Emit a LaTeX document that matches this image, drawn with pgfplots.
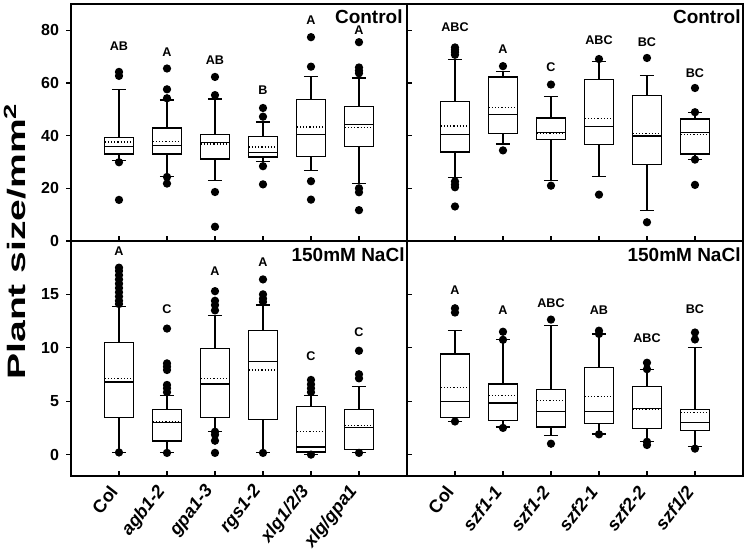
\documentclass[border=0pt]{standalone}
\usepackage{pgfplots}
\pgfplotsset{compat=1.18}
\usepgfplotslibrary{groupplots,statistics}
\usetikzlibrary{calc}
\usepackage{fontspec}
\setmainfont{Liberation Sans}

\tikzset{lt/.style={font=\fontsize{6.3}{7}\selectfont\bfseries, inner sep=0pt}}
\pgfplotsset{
  panel/.style={
    scale only axis, width=168pt,
    xmin=0, xmax=7, xtick={1,...,6},
    xtick pos=left, ytick pos=left,
    tick align=inside, major tick length=2.5pt,
    axis line style={line width=0.65pt},
    major tick style={black, line width=0.6pt},
    tick label style={font=\fontsize{8}{9}\selectfont\bfseries},
    /pgf/number format/assume math mode=true,
    boxplot/draw direction=y,
    boxplot/box extend=0.6, boxplot/whisker extend=0.3,
    boxplot/draw/average/.code={%
      \draw[densely dotted, line width=0.6pt]
        (boxplot box cs:\pgfplotsboxplotvalue{average},0) --
        (boxplot box cs:\pgfplotsboxplotvalue{average},1);
    },
    clip=false,
  },
  xlab/.style={xticklabel style={yshift=-6pt, xshift=-2.5pt, rotate=52,
    anchor=east, inner sep=0pt, font=\fontsize{9}{10}\selectfont\bfseries}},
  bx/.style={black, line width=0.6pt, mark=*, mark size=1.75pt,
    mark options={fill=black, solid}},
}

\begin{document}
\begin{tikzpicture}
\begin{groupplot}[group style={group size=2 by 2, horizontal sep=0pt,
    vertical sep=0pt, group name=g}, panel]

% top left: Control
\nextgroupplot[height=118.5pt, ymin=0, ymax=90, ytick={0,20,...,80},
  xticklabels={}, ytick align=outside]
\addplot[bx, boxplot prepared={lower whisker=30.5, lower quartile=33.0, median=35.9, upper quartile=39.4, upper whisker=57.6, average=37.6}]
  table[row sep=\\, y index=0] {y\\ 64.2\\ 62.7\\ 29.9\\ 15.6\\};
\addplot[bx, boxplot prepared={lower whisker=24.6, lower quartile=33.0, median=36.3, upper quartile=42.9, upper whisker=53.5, average=37.7}]
  table[row sep=\\, y index=0] {y\\ 65.5\\ 57.6\\ 54.2\\ 24.3\\ 21.8\\};
\addplot[bx, boxplot prepared={lower whisker=23.1, lower quartile=31.1, median=37.5, upper quartile=40.3, upper whisker=53.9, average=36.8}]
  table[row sep=\\, y index=0] {y\\ 62.3\\ 55.4\\ 18.6\\ 5.4\\};
\addplot[bx, boxplot prepared={lower whisker=30.3, lower quartile=31.9, median=33.5, upper quartile=39.8, upper whisker=45.2, average=35.7}]
  table[row sep=\\, y index=0] {y\\ 50.5\\ 47.2\\ 28.4\\ 21.5\\};
\addplot[bx, boxplot prepared={lower whisker=26.8, lower quartile=32.2, median=40.4, upper quartile=53.8, upper whisker=62.5, average=43.3}]
  table[row sep=\\, y index=0] {y\\ 77.4\\ 66.2\\ 22.7\\ 15.7\\};
\addplot[bx, boxplot prepared={lower whisker=21.9, lower quartile=35.8, median=44.1, upper quartile=51.0, upper whisker=61.9, average=43.1}]
  table[row sep=\\, y index=0] {y\\ 75.5\\ 65.9\\ 64.7\\ 63.7\\ 20.0\\ 18.5\\ 11.7\\};
\node[lt] at (axis cs:1,73.9) {AB};
\node[lt] at (axis cs:2,71.6) {A};
\node[lt] at (axis cs:3,68.8) {AB};
\node[lt] at (axis cs:4,57.4) {B};
\node[lt] at (axis cs:5,83.7) {A};
\node[lt] at (axis cs:6,79.9) {A};
\node[anchor=north east, inner sep=0pt, font=\fontsize{9.5}{10}\selectfont\bfseries]
  at ([xshift=-2pt, yshift=-2.5pt]rel axis cs:1,1) {Control};

% top right: Control
\nextgroupplot[height=118.5pt, ymin=0, ymax=90, ytick={0,20,...,80},
  xticklabels={}, yticklabels={}]
\addplot[bx, boxplot prepared={lower whisker=24.2, lower quartile=33.8, median=40.5, upper quartile=52.9, upper whisker=68.9, average=43.7}]
  table[row sep=\\, y index=0] {y\\ 73.5\\ 72.6\\ 71.7\\ 70.7\\ 22.6\\ 21.4\\ 20.4\\ 13.1\\};
\addplot[bx, boxplot prepared={lower whisker=36.8, lower quartile=40.7, median=48.1, upper quartile=62.3, upper whisker=64.5, average=50.7}]
  table[row sep=\\, y index=0] {y\\ 66.4\\ 34.4\\};
\addplot[bx, boxplot prepared={lower whisker=23.1, lower quartile=38.6, median=41.3, upper quartile=46.7, upper whisker=54.8, average=41.0}]
  table[row sep=\\, y index=0] {y\\ 59.4\\ 21.0\\};
\addplot[bx, boxplot prepared={lower whisker=24.5, lower quartile=36.7, median=43.6, upper quartile=61.4, upper whisker=68.3, average=46.4}]
  table[row sep=\\, y index=0] {y\\ 69.1\\ 17.6\\};
\addplot[bx, boxplot prepared={lower whisker=11.6, lower quartile=29.1, median=39.9, upper quartile=55.3, upper whisker=62.7, average=40.7}]
  table[row sep=\\, y index=0] {y\\ 69.5\\ 7.1\\};
\addplot[bx, boxplot prepared={lower whisker=30.9, lower quartile=33.0, median=41.3, upper quartile=46.3, upper whisker=48.8, average=40.4}]
  table[row sep=\\, y index=0] {y\\ 58.1\\ 48.9\\ 30.9\\ 21.3\\};
\node[lt] at (axis cs:1,81.2) {ABC};
\node[lt] at (axis cs:2,72.7) {A};
\node[lt] at (axis cs:3,66.0) {C};
\node[lt] at (axis cs:4,76.2) {ABC};
\node[lt] at (axis cs:5,75.5) {BC};
\node[lt] at (axis cs:6,63.7) {BC};
\node[anchor=north east, inner sep=0pt, font=\fontsize{9.5}{10}\selectfont\bfseries]
  at ([xshift=-1pt, yshift=-2.5pt]rel axis cs:1,1) {Control};

% bottom left: 150 mM NaCl
\nextgroupplot[height=117.5pt, ymin=-2, ymax=20, ytick={0,5,10,15},
  ytick align=outside, xlab,
  xticklabels={Col, {\itshape agb1-2}, {\itshape gpa1-3}, {\itshape rgs1-2}, {\itshape xlg1/2/3}, {\itshape xlg/gpa1}}]
\addplot[bx, boxplot prepared={lower whisker=0.22, lower quartile=3.51, median=6.8, upper quartile=10.47, upper whisker=13.85, average=7.11}]
  table[row sep=\\, y index=0] {y\\ 17.5\\ 17.2\\ 16.8\\ 16.4\\ 16.0\\ 15.6\\ 15.2\\ 14.8\\ 14.4\\ 14.1\\ 0.2\\};
\addplot[bx, boxplot prepared={lower whisker=0.16, lower quartile=1.27, median=3.04, upper quartile=4.22, upper whisker=5.56, average=3.07}]
  table[row sep=\\, y index=0] {y\\ 11.8\\ 8.54\\ 8.23\\ 7.92\\ 6.52\\ 6.21\\ 5.84\\ 0.16\\};
\addplot[bx, boxplot prepared={lower whisker=2.17, lower quartile=3.51, median=6.61, upper quartile=9.97, upper whisker=13.0, average=7.11}]
  table[row sep=\\, y index=0] {y\\ 15.3\\ 14.4\\ 14.0\\ 13.5\\ 2.14\\ 1.86\\ 1.3\\ 0.16\\};
\addplot[bx, boxplot prepared={lower whisker=0.16, lower quartile=3.26, median=8.73, upper quartile=11.6, upper whisker=14.0, average=7.92}]
  table[row sep=\\, y index=0] {y\\ 16.4\\ 15.0\\ 14.6\\ 14.3\\ 0.16\\};
\addplot[bx, boxplot prepared={lower whisker=0.0, lower quartile=0.25, median=0.71, upper quartile=4.5, upper whisker=5.56, average=2.2}]
  table[row sep=\\, y index=0] {y\\ 6.99\\ 6.58\\ 6.21\\ 5.84\\ 0.0\\};
\addplot[bx, boxplot prepared={lower whisker=0.16, lower quartile=0.5, median=2.55, upper quartile=4.25, upper whisker=6.37, average=2.76}]
  table[row sep=\\, y index=0] {y\\ 9.72\\ 7.52\\ 7.14\\ 0.16\\};
\node[lt] at (axis cs:1,19.0) {A};
\node[lt] at (axis cs:2,13.6) {C};
\node[lt] at (axis cs:3,17.2) {A};
\node[lt] at (axis cs:4,18.0) {A};
\node[lt] at (axis cs:5,9.2) {C};
\node[lt] at (axis cs:6,11.5) {C};
\node[anchor=north east, inner sep=0pt, font=\fontsize{9.5}{10}\selectfont\bfseries]
  at ([xshift=-1pt, yshift=-3pt]rel axis cs:1,1) {150mM NaCl};

% bottom right: 150 mM NaCl
\nextgroupplot[height=117.5pt, ymin=-2, ymax=20, ytick={0,5,10,15},
  yticklabels={}, xlab,
  xticklabels={Col, {\itshape szf1-1}, {\itshape szf1-2}, {\itshape szf2-1}, {\itshape szf2-2}, {\itshape szf1/2}}]
\addplot[bx, boxplot prepared={lower whisker=3.1, lower quartile=3.48, median=5.0, upper quartile=9.41, upper whisker=11.65, average=6.3}]
  table[row sep=\\, y index=0] {y\\ 13.7\\ 13.3\\ 3.1\\};
\addplot[bx, boxplot prepared={lower whisker=2.58, lower quartile=3.17, median=4.84, upper quartile=6.61, upper whisker=10.75, average=5.53}]
  table[row sep=\\, y index=0] {y\\ 11.5\\ 10.75\\ 2.5\\};
\addplot[bx, boxplot prepared={lower whisker=1.77, lower quartile=2.58, median=4.04, upper quartile=6.12, upper whisker=12.1, average=5.06}]
  table[row sep=\\, y index=0] {y\\ 12.64\\ 1.02\\};
\addplot[bx, boxplot prepared={lower whisker=1.93, lower quartile=2.89, median=4.04, upper quartile=8.17, upper whisker=11.3, average=5.43}]
  table[row sep=\\, y index=0] {y\\ 11.6\\ 11.3\\ 1.9\\};
\addplot[bx, boxplot prepared={lower whisker=1.21, lower quartile=2.45, median=4.29, upper quartile=6.37, upper whisker=7.98, average=4.19}]
  table[row sep=\\, y index=0] {y\\ 8.6\\ 8.0\\ 1.2\\ 0.9\\};
\addplot[bx, boxplot prepared={lower whisker=0.78, lower quartile=2.27, median=3.01, upper quartile=4.25, upper whisker=10.0, average=3.94}]
  table[row sep=\\, y index=0] {y\\ 11.43\\ 10.78\\ 0.56\\};
\node[lt] at (axis cs:1,15.4) {A};
\node[lt] at (axis cs:2,13.5) {A};
\node[lt] at (axis cs:3,14.2) {ABC};
\node[lt] at (axis cs:4,13.5) {AB};
\node[lt] at (axis cs:5,10.9) {ABC};
\node[lt] at (axis cs:6,13.6) {BC};
\node[anchor=north east, inner sep=0pt, font=\fontsize{9.5}{10}\selectfont\bfseries]
  at ([xshift=-1pt, yshift=-3pt]rel axis cs:1,1) {150mM NaCl};
\end{groupplot}

% shared y label
\node[rotate=90, inner sep=0pt, font=\fontsize{12.6}{14}\selectfont\bfseries]
  at ($(g c1r1.south west)+(-28pt,0)$)
  {\scalebox{1.55}[1]{Plant size/mm\textsuperscript{2}}};

\pgfresetboundingbox
\path (g c1r1.north west) ++(-35.5pt,2pt) rectangle ++(375pt,-275pt);
\end{tikzpicture}
\end{document}
